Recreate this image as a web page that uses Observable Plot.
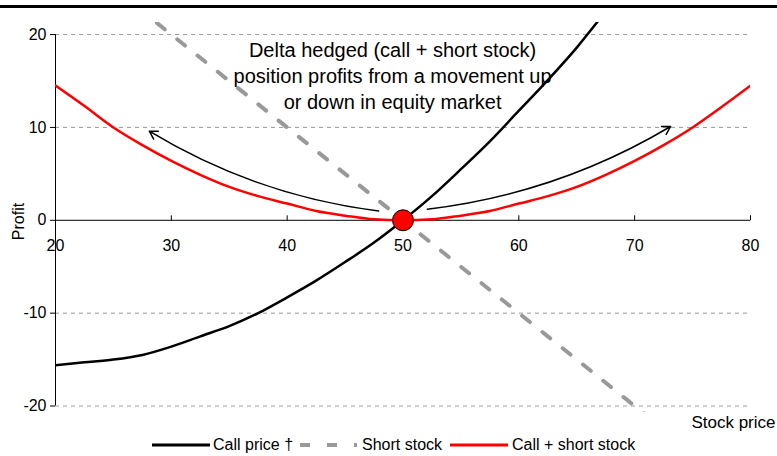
<!DOCTYPE html>
<html>
<head>
<meta charset="utf-8">
<script src="https://cdn.jsdelivr.net/npm/d3@7"></script>
<script src="https://cdn.jsdelivr.net/npm/@observablehq/plot@0.6"></script>
<style>
  html, body { margin: 0; padding: 0; background: #fff; }
  body { width: 777px; height: 456px; position: relative; overflow: hidden; font-family: "Liberation Sans", Arial, sans-serif; }
  #rule { position: absolute; left: 0; top: 5px; width: 777px; height: 3px; background: #000; }
  #chart { position: absolute; left: 0; top: 8px; }
  .leg { position: absolute; top: 436px; height: 18px; display: flex; align-items: center; font-size: 16px; color: #000; }
  .leg svg { display: block; }
</style>
</head>
<body>
<div id="rule"></div>
<div id="chart"></div>
<div class="leg" style="left:152px"><svg width="58" height="8"><line x1="0" x2="58" y1="4" y2="4" stroke="#000" stroke-width="3"/></svg><span style="margin-left:3px">Call price †</span></div>
<div class="leg" style="left:300px"><svg width="58" height="8"><line x1="0" x2="57" y1="4" y2="4" stroke="#999" stroke-width="4" stroke-dasharray="10,17"/></svg><span style="margin-left:4px">Short stock</span></div>
<div class="leg" style="left:450px"><svg width="58" height="8"><line x1="0" x2="58" y1="4" y2="4" stroke="#ff0000" stroke-width="3"/></svg><span style="margin-left:4px">Call + short stock</span></div>
<script>
// Stock prices (x)
const stockPrice = [20, 22.5, 25, 27.5, 30, 32.5, 35, 37.5, 40, 42.5, 45, 47.5, 50, 52.5, 55, 57.5, 60, 62.5, 65, 67.5, 70, 72.5, 75, 77.5, 80];
// Call price profit
const callPrice = [-15.6, -15.3, -15.0, -14.5, -13.6, -12.5, -11.4, -10.0, -8.3, -6.5, -4.5, -2.4, 0, 2.6, 5.5, 8.5, 11.8, 15.1, 18.6, 22.5, 26.4, 30.5, 35.0, 39.7, 44.5];
// Short stock profit
const shortStock = [30, 27.5, 25, 22.5, 20, 17.5, 15, 12.5, 10, 7.5, 5, 2.5, 0, -2.5, -5, -7.5, -10, -12.5, -15, -17.5, -20, -22.5, -25, -27.5, -30];
// Call + short stock profit
const hedged = [14.5, 12.3, 10.0, 8.1, 6.4, 4.9, 3.6, 2.6, 1.8, 1.0, 0.5, 0.1, 0, 0.1, 0.5, 1.0, 1.8, 2.6, 3.6, 4.9, 6.4, 8.1, 10.0, 12.2, 14.5];

const xTicks = [20, 30, 40, 50, 60, 70, 80];
const yTicks = [-20, -10, 0, 10, 20];
const gridTicks = [-20, -10, 10, 20];

const annotationText = "Delta hedged (call + short stock)\nposition profits from a movement up\nor down in equity market";
const annotationAt = {x: 49.1, y: 15.7};
const leftArrow = [{x1: 47.9, y1: 1.0, x2: 28.1, y2: 9.6}];
const rightArrow = [{x1: 52.1, y1: 1.2, x2: 73.1, y2: 10.1}];
const hedgePoint = [{x: 50, y: 0}];

const rows = stockPrice.map((s, i) => ({s, call: callPrice[i], short: shortStock[i], hedged: hedged[i]}));

const tickUp = { draw(ctx) { ctx.moveTo(0, 0); ctx.lineTo(0, -5); } };
const arrowStyle = {x1: "x1", y1: "y1", x2: "x2", y2: "y2", stroke: "#000", strokeWidth: 1.5, headLength: 9};

const chart = Plot.plot({
  width: 777,
  height: 428,
  marginLeft: 55,
  marginRight: 27,
  marginTop: 14,
  marginBottom: 24,
  style: {fontFamily: "'Liberation Sans', Arial, sans-serif", fontSize: "16px", color: "#000", background: "#fff"},
  x: {domain: [20, 80], axis: null},
  y: {domain: [-20.7, 21.3]},
  marks: [
    Plot.ruleY(gridTicks, {x1: 20, x2: 80, stroke: "#999", strokeDasharray: "4,4", strokeWidth: 1}),
    Plot.axisY({ticks: yTicks, tickSize: 5, tickPadding: 4, fontSize: 16, label: null, stroke: "#000", tickFormat: d => String(d)}),
    Plot.ruleX([20], {y1: -20, y2: 20, stroke: "#000", strokeWidth: 1}),
    Plot.ruleY([0], {x1: 20, x2: 80, stroke: "#000", strokeWidth: 1}),
    Plot.dot(xTicks.slice(1), {x: d => d, y: 0, symbol: tickUp, stroke: "#000", strokeWidth: 1, fill: "none"}),
    Plot.text(xTicks, {x: d => d, y: 0, dy: 26, text: d => String(d), fontSize: 16}),
    Plot.line(rows, {x: "s", y: "short", stroke: "#999", strokeWidth: 4, strokeDasharray: "10,16", clip: true}),
    Plot.line(rows, {x: "s", y: "call", stroke: "#000", strokeWidth: 2.5, curve: "monotone-x", clip: true}),
    Plot.line(rows, {x: "s", y: "hedged", stroke: "#ff0000", strokeWidth: 2.5, curve: "monotone-x", clip: true}),
    Plot.arrow(leftArrow, {...arrowStyle, bend: 12}),
    Plot.arrow(rightArrow, {...arrowStyle, bend: -12}),
    Plot.dot(hedgePoint, {x: "x", y: "y", r: 10.5, fill: "#ff0000", stroke: "#000", strokeWidth: 1}),
    Plot.text([annotationText], {x: annotationAt.x, y: annotationAt.y, text: d => d, fontSize: 20, lineHeight: 1.32, textAnchor: "middle", lineAnchor: "middle"}),
    Plot.text(["Stock price"], {frameAnchor: "bottom-right", textAnchor: "end", lineAnchor: "middle", dx: 25, dy: 10, fontSize: 17}),
    Plot.text(["Profit"], {frameAnchor: "left", rotate: -90, dx: -37, dy: 4, fontSize: 16, textAnchor: "middle", lineAnchor: "middle"})
  ]
});
document.getElementById("chart").appendChild(chart);
</script>
</body>
</html>
